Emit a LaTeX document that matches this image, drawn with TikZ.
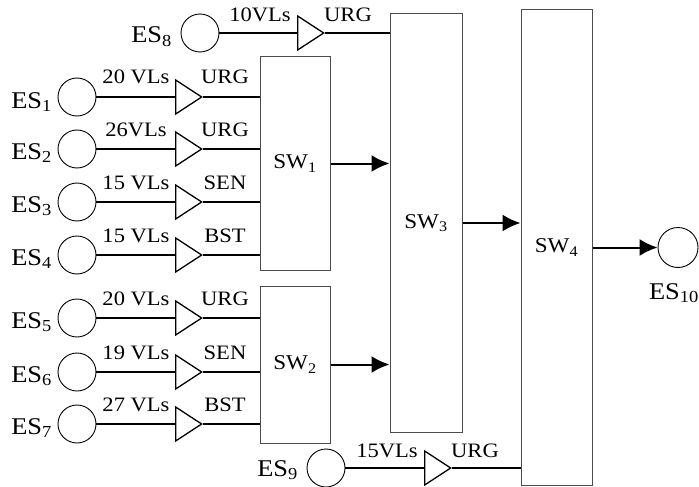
\documentclass[tikz,border=0pt]{standalone}
\usepackage{fontspec}
\setmainfont[FakeStretch=1.1]{Liberation Serif}
\usetikzlibrary{shapes.geometric,arrows.meta}
\begin{document}
\begin{tikzpicture}[x=1pt,y=-1pt,
 es/.style={circle,draw,line width=0.9pt,minimum size=38pt,inner sep=0pt},
 tri/.style={isosceles triangle,isosceles triangle stretches,draw,line width=1.3pt,minimum width=34pt,minimum height=26pt,inner sep=0pt,anchor=west},
 sw/.style={draw=black!70,line width=1pt,inner sep=0pt,font=\fontsize{21}{24}\selectfont},
 link/.style={line width=2pt},
 arr/.style={line width=2pt,-{Latex[length=18pt,width=17pt]}},
 lbl/.style={font=\fontsize{20.5}{23}\selectfont,inner sep=0pt,anchor=base},
 eslbl/.style={font=\fontsize{24}{27}\selectfont,inner sep=0pt,anchor=base east}
]
\useasboundingbox (0,0) rectangle (699,487);
% switches
\node[sw,minimum width=70pt,minimum height=213pt] (sw1) at (295,163.5) {SW\textsubscript{1}};
\node[sw,minimum width=70pt,minimum height=157pt] (sw2) at (295,364.5) {SW\textsubscript{2}};
\node[sw,minimum width=72pt,minimum height=418pt] (sw3) at (426,223) {SW\textsubscript{3}};
\node[sw,minimum width=71pt,minimum height=475pt] (sw4) at (556.5,247.5) {SW\textsubscript{4}};
% end systems
\node[es] (es1) at (77,97) {};
\node[es] (es2) at (77,149) {};
\node[es] (es3) at (77,202) {};
\node[es] (es4) at (77,255) {};
\node[es] (es5) at (77,318) {};
\node[es] (es6) at (77,372) {};
\node[es] (es7) at (77,424) {};
\node[es] (es8) at (200,33) {};
\node[es] (es9) at (326,468) {};
\node[es,minimum size=40pt] (es10) at (678,247.5) {};
% ES labels
\node[eslbl] (l1) at (52,108) {ES\textsubscript{1}};
\node[eslbl] (l2) at (52,159) {ES\textsubscript{2}};
\node[eslbl] (l3) at (52,212) {ES\textsubscript{3}};
\node[eslbl] (l4) at (52,265) {ES\textsubscript{4}};
\node[eslbl] (l5) at (52,328) {ES\textsubscript{5}};
\node[eslbl] (l6) at (52,382) {ES\textsubscript{6}};
\node[eslbl] (l7) at (52,434) {ES\textsubscript{7}};
\node[eslbl] (l8) at (172,43) {ES\textsubscript{8}};
\node[eslbl] (l9) at (298,476) {ES\textsubscript{9}};
\node[eslbl] (l10) at (699,299) {ES\textsubscript{10}};
% triangles
\node[tri] (t1) at (175,97) {};
\node[tri] (t2) at (175,149) {};
\node[tri] (t3) at (175,202) {};
\node[tri] (t4) at (175,255) {};
\node[tri] (t5) at (175,318) {};
\node[tri] (t6) at (175,372) {};
\node[tri] (t7) at (175,424) {};
\node[tri] (t8) at (297,33) {};
\node[tri] (t9) at (424,468) {};
% VL / class labels
\node[lbl] (v1) at (136,84) {20 VLs};   \node[lbl] (c1) at (225,84) {URG};
\node[lbl] (v2) at (136,136) {26VLs};   \node[lbl] (c2) at (225,136) {URG};
\node[lbl] (v3) at (136,189) {15 VLs};  \node[lbl] (c3) at (225,189) {SEN};
\node[lbl] (v4) at (136,242) {15 VLs};  \node[lbl] (c4) at (225,242) {BST};
\node[lbl] (v5) at (136,305) {20 VLs};  \node[lbl] (c5) at (225,305) {URG};
\node[lbl] (v6) at (136,359) {19 VLs};  \node[lbl] (c6) at (225,359) {SEN};
\node[lbl] (v7) at (136,411) {27 VLs};  \node[lbl] (c7) at (225,411) {BST};
\node[lbl] (v8) at (260,22) {10VLs};    \node[lbl] (c8) at (348,22) {URG};
\node[lbl] (v9) at (387,457) {15VLs};   \node[lbl] (c9) at (475,457) {URG};
% links
\foreach \i in {1,2,3,4}{
  \draw[link] (es\i) -- (t\i.west);
  \draw[link] (t\i.east) -- (t\i.east -| sw1.west);
}
\foreach \i in {5,6,7}{
  \draw[link] (es\i) -- (t\i.west);
  \draw[link] (t\i.east) -- (t\i.east -| sw2.west);
}
\draw[link] (es8) -- (t8.west);
\draw[link] (t8.east) -- (t8.east -| sw3.west);
\draw[link] (es9) -- (t9.west);
\draw[link] (t9.east) -- (t9.east -| sw4.west);
% arrows between switches
\draw[arr] (sw1.east) -- (sw1.east -| sw3.west);
\draw[arr] (sw2.east) -- (sw2.east -| sw3.west);
\draw[arr] (sw3.east) -- (sw3.east -| sw4.west);
\draw[arr] (sw4.east) -- (es10.west);
\end{tikzpicture}
\end{document}
